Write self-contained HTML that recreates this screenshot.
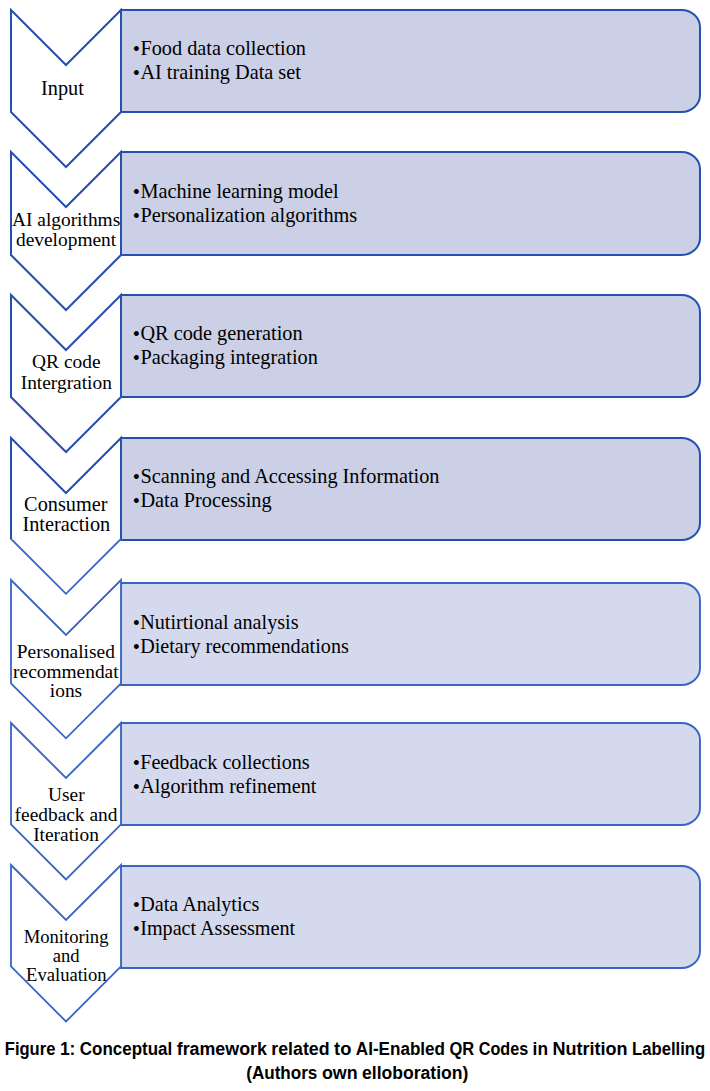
<!DOCTYPE html>
<html lang="en"><head><meta charset="utf-8"><title>Figure 1</title>
<style>
html,body{margin:0;padding:0;background:#fff;}
body{width:710px;height:1091px;overflow:hidden;}
svg{display:block;}
.s{font-family:"Liberation Serif",serif;fill:#000;}
.c{font-family:"Liberation Sans",sans-serif;font-weight:bold;fill:#000;}
</style></head><body>
<svg width="710" height="1091" viewBox="0 0 710 1091">
<rect width="710" height="1091" fill="#fff"/>
<defs><clipPath id="up"><rect x="0" y="0" width="710" height="539.3"/></clipPath><clipPath id="lo"><rect x="0" y="539.3" width="710" height="552"/></clipPath></defs>
<path d="M121.0 10H681.5A18.5 17 0 0 1 700.0 27V95A18.5 17 0 0 1 681.5 112H121.0Z" fill="#CBD0E6" stroke="#2650AE" stroke-width="2" stroke-linejoin="miter"/>
<path d="M11.0 10L66.0 65L121.0 10V112L66.0 167L11.0 112Z" fill="#fff" stroke="#2650AE" stroke-width="2" stroke-linejoin="miter"/>
<path d="M121.0 152H681.5A18.5 17 0 0 1 700.0 169V238A18.5 17 0 0 1 681.5 255H121.0Z" fill="#CBD0E6" stroke="#2650AE" stroke-width="2" stroke-linejoin="miter"/>
<path d="M11.0 152L66.0 207L121.0 152V255L66.0 310L11.0 255Z" fill="#fff" stroke="#2650AE" stroke-width="2" stroke-linejoin="miter"/>
<path d="M121.0 295H681.5A18.5 17 0 0 1 700.0 312V380A18.5 17 0 0 1 681.5 397H121.0Z" fill="#CBD0E6" stroke="#2650AE" stroke-width="2" stroke-linejoin="miter"/>
<path d="M11.0 295L66.0 350L121.0 295V397L66.0 452L11.0 397Z" fill="#fff" stroke="#2650AE" stroke-width="2" stroke-linejoin="miter"/>
<path d="M121.0 438H681.5A18.5 17 0 0 1 700.0 455V523A18.5 17 0 0 1 681.5 540H121.0Z" fill="#CBD0E6" stroke="#2650AE" stroke-width="2" stroke-linejoin="miter"/>
<path d="M11.0 438L66.0 493L121.0 438V538.8L66.0 593.8L11.0 538.8Z" fill="#fff" stroke="#2650AE" stroke-width="2" stroke-linejoin="miter" clip-path="url(#up)"/>
<path d="M11.0 438L66.0 493L121.0 438V538.8L66.0 593.8L11.0 538.8Z" fill="#fff" stroke="#3865C2" stroke-width="1.8" stroke-linejoin="miter" clip-path="url(#lo)"/>
<path d="M121.0 583H681.5A18.5 17 0 0 1 700.0 600V668A18.5 17 0 0 1 681.5 685H121.0Z" fill="#D4D9ED" stroke="#3865C2" stroke-width="1.9" stroke-linejoin="miter"/>
<path d="M11.0 580L66.0 635L121.0 580V683.3L66.0 738.3L11.0 683.3Z" fill="#fff" stroke="#3865C2" stroke-width="1.8" stroke-linejoin="miter"/>
<path d="M121.0 723H681.5A18.5 17 0 0 1 700.0 740V808A18.5 17 0 0 1 681.5 825H121.0Z" fill="#D4D9ED" stroke="#3865C2" stroke-width="1.9" stroke-linejoin="miter"/>
<path d="M11.0 723L66.0 778L121.0 723V824.5L66.0 879.5L11.0 824.5Z" fill="#fff" stroke="#3865C2" stroke-width="1.8" stroke-linejoin="miter"/>
<path d="M121.0 866H681.5A18.5 17 0 0 1 700.0 883V951A18.5 17 0 0 1 681.5 968H121.0Z" fill="#D4D9ED" stroke="#3865C2" stroke-width="1.9" stroke-linejoin="miter"/>
<path d="M11.0 865L66.0 920L121.0 865V966.5L66.0 1021.5L11.0 966.5Z" fill="#fff" stroke="#3865C2" stroke-width="1.8" stroke-linejoin="miter"/>
<text class="s" y="54.7" font-size="20.3"><tspan x="132.7" dy="0.9" font-size="20.6">•</tspan><tspan x="140.4" dy="-0.9">Food data collection</tspan></text>
<text class="s" y="78.6" font-size="20.3"><tspan x="132.7" dy="0.9" font-size="20.6">•</tspan><tspan x="140.4" dy="-0.9">AI training Data set</tspan></text>
<text class="s" x="62.4" y="94.9" font-size="20.3" text-anchor="middle">Input</text>
<text class="s" y="197.7" font-size="20.3"><tspan x="132.7" dy="0.9" font-size="20.6">•</tspan><tspan x="140.4" dy="-0.9">Machine learning model</tspan></text>
<text class="s" y="221.6" font-size="20.3"><tspan x="132.7" dy="0.9" font-size="20.6">•</tspan><tspan x="140.4" dy="-0.9">Personalization algorithms</tspan></text>
<text class="s" x="66.1" y="225.7" font-size="19.4" text-anchor="middle">AI algorithms</text>
<text class="s" x="66.1" y="245.9" font-size="19.4" text-anchor="middle">development</text>
<text class="s" y="340.2" font-size="20.3"><tspan x="132.7" dy="0.9" font-size="20.6">•</tspan><tspan x="140.4" dy="-0.9">QR code generation</tspan></text>
<text class="s" y="364.1" font-size="20.3"><tspan x="132.7" dy="0.9" font-size="20.6">•</tspan><tspan x="140.4" dy="-0.9">Packaging integration</tspan></text>
<text class="s" x="66.3" y="367.7" font-size="19.4" text-anchor="middle">QR code</text>
<text class="s" x="66.3" y="388.5" font-size="19.4" text-anchor="middle">Intergration</text>
<text class="s" y="482.7" font-size="20.3"><tspan x="132.7" dy="0.9" font-size="20.6">•</tspan><tspan x="140.4" dy="-0.9">Scanning and Accessing Information</tspan></text>
<text class="s" y="506.6" font-size="20.3"><tspan x="132.7" dy="0.9" font-size="20.6">•</tspan><tspan x="140.4" dy="-0.9">Data Processing</tspan></text>
<text class="s" x="65.8" y="510.7" font-size="20.3" text-anchor="middle">Consumer</text>
<text class="s" x="66.3" y="531.0" font-size="20.3" text-anchor="middle">Interaction</text>
<text class="s" y="629.0" font-size="20.15"><tspan x="132.7" dy="0.9" font-size="20.6">•</tspan><tspan x="140.2" dy="-0.9">Nutirtional analysis</tspan></text>
<text class="s" y="652.9" font-size="20.15"><tspan x="132.7" dy="0.9" font-size="20.6">•</tspan><tspan x="140.2" dy="-0.9">Dietary recommendations</tspan></text>
<text class="s" x="65.85" y="657.7" font-size="19.4" text-anchor="middle">Personalised</text>
<text class="s" x="65.85" y="677.5" font-size="19.4" text-anchor="middle">recommendat</text>
<text class="s" x="66" y="696.9" font-size="19.4" text-anchor="middle">ions</text>
<text class="s" y="768.8" font-size="20.15"><tspan x="132.7" dy="0.9" font-size="20.6">•</tspan><tspan x="140.2" dy="-0.9">Feedback collections</tspan></text>
<text class="s" y="792.7" font-size="20.15"><tspan x="132.7" dy="0.9" font-size="20.6">•</tspan><tspan x="140.2" dy="-0.9">Algorithm refinement</tspan></text>
<text class="s" x="66.3" y="800.6" font-size="19.4" text-anchor="middle">User</text>
<text class="s" x="66" y="820.9" font-size="19.4" text-anchor="middle">feedback and</text>
<text class="s" x="66" y="841.2" font-size="19.4" text-anchor="middle">Iteration</text>
<text class="s" y="910.7" font-size="20.15"><tspan x="132.7" dy="0.9" font-size="20.6">•</tspan><tspan x="140.2" dy="-0.9">Data Analytics</tspan></text>
<text class="s" y="934.6" font-size="20.15"><tspan x="132.7" dy="0.9" font-size="20.6">•</tspan><tspan x="140.2" dy="-0.9">Impact Assessment</tspan></text>
<text class="s" x="66.1" y="943.1" font-size="18.6" text-anchor="middle">Monitoring</text>
<text class="s" x="66.1" y="961.5" font-size="18.6" text-anchor="middle">and</text>
<text class="s" x="66.35" y="981.2" font-size="18.6" text-anchor="middle">Evaluation</text>
<text class="c" y="1054.6" font-size="18.0"><tspan x="4.8" textLength="50.6" lengthAdjust="spacingAndGlyphs">Figure</tspan> <tspan x="59.9" textLength="15.5" lengthAdjust="spacingAndGlyphs">1:</tspan> <tspan x="79.8" textLength="92.4" lengthAdjust="spacingAndGlyphs">Conceptual</tspan> <tspan x="176.7" textLength="90.2" lengthAdjust="spacingAndGlyphs">framework</tspan> <tspan x="271.3" textLength="58.3" lengthAdjust="spacingAndGlyphs">related</tspan> <tspan x="334.1" textLength="17.3" lengthAdjust="spacingAndGlyphs">to</tspan> <tspan x="355.8" textLength="89.2" lengthAdjust="spacingAndGlyphs">AI-Enabled</tspan> <tspan x="449.5" textLength="24.7" lengthAdjust="spacingAndGlyphs">QR</tspan> <tspan x="478.7" textLength="49.5" lengthAdjust="spacingAndGlyphs">Codes</tspan> <tspan x="532.6" textLength="15.4" lengthAdjust="spacingAndGlyphs">in</tspan> <tspan x="552.5" textLength="75.1" lengthAdjust="spacingAndGlyphs">Nutrition</tspan> <tspan x="632.1" textLength="73.1" lengthAdjust="spacingAndGlyphs">Labelling</tspan></text>
<text class="c" y="1078.6" font-size="18.0"><tspan x="246.2" textLength="71.2" lengthAdjust="spacingAndGlyphs">(Authors</tspan> <tspan x="321.9" textLength="35.8" lengthAdjust="spacingAndGlyphs">own</tspan> <tspan x="362.1" textLength="106.3" lengthAdjust="spacingAndGlyphs">elloboration)</tspan></text>
</svg></body></html>
